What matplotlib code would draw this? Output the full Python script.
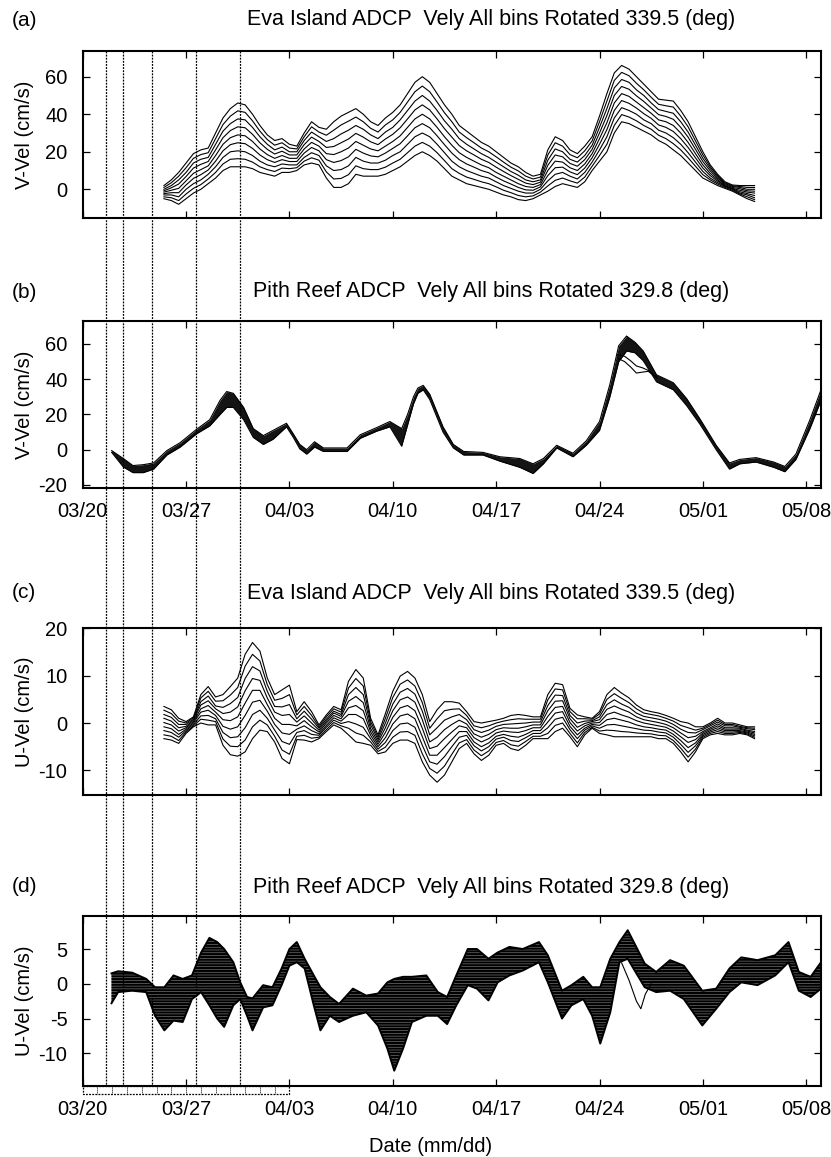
import numpy as np
import matplotlib
matplotlib.use("Agg")
import matplotlib.pyplot as plt
from matplotlib.lines import Line2D
from matplotlib.transforms import blended_transform_factory

plt.rcParams['font.family'] = ['Liberation Sans', 'DejaVu Sans']
plt.rcParams['axes.unicode_minus'] = False
plt.rcParams['hatch.linewidth'] = 1.6

# time axis: days since 03/20 00:00
tick_days = [0, 7, 14, 21, 28, 35, 42, 49]
tick_labels = ['03/20', '03/27', '04/03', '04/10', '04/17', '04/24', '05/01', '05/08']
event_days = [1.6, 2.73, 4.69, 7.66, 10.62]

# ---- Eva Island, V (panel a) and U (panel c): half-day samples, bins top -> bottom
days_eva = np.arange(5.5, 46.0, 0.5)

a_bins = [
    [2, 5, 9, 14, 19, 21, 22, 30, 38, 43,
     46, 45, 40, 34, 29, 26, 27, 24, 23, 30,
     36, 33, 32, 36, 39, 41, 43, 40, 36, 34,
     38, 41, 45, 51, 57, 60, 57, 51, 45, 40,
     34, 31, 28, 25, 23, 20, 17, 14, 12, 9,
     7, 8, 21, 28, 26, 21, 19, 23, 28, 39,
     51, 62, 66, 64, 60, 56, 52, 48, 47.5, 47,
     42, 36, 28, 20, 13, 8, 4, 2.3, 2, 2,
     2],
    [1, 3.5, 7, 11.5, 16.5, 18.5, 19.5, 27, 34.5, 39,
     41.8, 41, 36.5, 31, 26.5, 23.5, 24.8, 22, 21.5, 28,
     33.3, 30.5, 28.8, 31.5, 34.3, 36.3, 38.5, 36, 32.5, 30.5,
     34.3, 37, 41, 46.5, 52, 55, 52, 46.5, 40.8, 36,
     30.5, 27.5, 24.8, 22, 20, 17.3, 14.5, 11.8, 9.8, 7,
     5.5, 6.5, 18.3, 24.8, 23, 18.5, 16.8, 20.5, 25.8, 36,
     47, 58, 62.3, 60.5, 56.5, 53, 49, 45.3, 44.5, 43.8,
     39, 33.3, 25.8, 18.3, 12, 7.3, 3.5, 1.9, 1.5, 1,
     1],
    [0, 2, 5, 9, 14, 16, 17, 24, 31, 35,
     37.5, 37, 33, 28, 24, 21, 22.5, 20, 20, 26,
     30.5, 28, 25.5, 27, 29.5, 31.5, 34, 32, 29, 27,
     30.5, 33, 37, 42, 47, 50, 47, 42, 36.5, 32,
     27, 24, 21.5, 19, 17, 14.5, 12, 9.5, 7.5, 5,
     4, 5, 15.5, 21.5, 20, 16, 14.5, 18, 23.5, 33,
     43, 54, 58.5, 57, 53, 50, 46, 42.5, 41.5, 40.5,
     36, 30.5, 23.5, 16.5, 11, 6.5, 3, 1.5, 1, 0,
     0],
    [-0.8, 0.8, 2.8, 6.8, 11.3, 13.3, 14.8, 21, 27.5, 31.3,
     33.3, 32.8, 29.3, 24.8, 21.3, 18.8, 20.3, 18.3, 18.3, 23.8,
     27.8, 25.5, 22.3, 22.8, 24.8, 26.8, 29.8, 27.8, 25.3, 23.8,
     26.8, 29.3, 32.8, 37.5, 42.3, 45, 42.3, 37.5, 32.3, 27.8,
     23.3, 20.5, 18.3, 16, 14.3, 11.8, 9.5, 7.3, 5.3, 3.3,
     2.5, 3.8, 12.8, 18.3, 17.3, 13.8, 12.3, 15.8, 21.3, 30,
     39.3, 50, 54.8, 53.3, 49.8, 46.8, 43.3, 39.8, 38.8, 37.3,
     33, 27.8, 21.3, 14.8, 9.8, 5.8, 2.5, 1, 0.3, -0.8,
     -1],
    [-1.5, -0.5, 0.5, 4.5, 8.5, 10.5, 12.5, 18, 24, 27.5,
     29, 28.5, 25.5, 21.5, 18.5, 16.5, 18, 16.5, 16.5, 21.5,
     25, 23, 19, 18.5, 20, 22, 25.5, 23.5, 21.5, 20.5,
     23, 25.5, 28.5, 33, 37.5, 40, 37.5, 33, 28, 23.5,
     19.5, 17, 15, 13, 11.5, 9, 7, 5, 3, 1.5,
     1, 2.5, 10, 15, 14.5, 11.5, 10, 13.5, 19, 27,
     35.5, 46, 51, 49.5, 46.5, 43.5, 40.5, 37, 36, 34,
     30, 25, 19, 13, 8.5, 5, 2, 0.5, -0.5, -1.5,
     -2],
    [-2.3, -1.8, -1.8, 2.3, 5.8, 7.8, 10.3, 15, 20.5, 23.8,
     24.8, 24.3, 21.8, 18.3, 15.8, 14.3, 15.8, 14.8, 14.8, 19.3,
     22.3, 20.5, 15.8, 14.3, 15.3, 17.3, 21.3, 19.3, 17.8, 17.3,
     19.3, 21.8, 24.3, 28.5, 32.8, 35, 32.8, 28.5, 23.8, 19.3,
     15.8, 13.5, 11.8, 10, 8.8, 6.5, 4.5, 2.8, 1, -0.3,
     -0.5, 1.3, 7.3, 11.5, 11.8, 9.3, 7.8, 11.3, 16.8, 24,
     31.8, 42, 47.3, 45.8, 43.3, 40.3, 37.8, 34.3, 33, 30.8,
     27, 22.3, 16.8, 11.3, 7.3, 4.3, 1.8, 0.3, -1.3, -2.3,
     -3.3],
    [-3, -3, -4, 0, 3, 5, 8, 12, 17, 20,
     20.5, 20, 18, 15, 13, 12, 13.5, 13, 13, 17,
     19.5, 18, 12.5, 10, 10.5, 12.5, 17, 15, 14, 14,
     15.5, 18, 20, 24, 28, 30, 28, 24, 19.5, 15,
     12, 10, 8.5, 7, 6, 4, 2, 0.5, -1, -2,
     -2, 0, 4.5, 8, 9, 7, 5.5, 9, 14.5, 21,
     28, 38, 43.5, 42, 40, 37, 35, 31.5, 30, 27.5,
     24, 19.5, 14.5, 9.5, 6, 3.5, 1.5, 0, -2, -3,
     -4.5],
    [-4, -4.5, -6, -2.5, 0.5, 2.5, 5.5, 9, 13.5, 16,
     16.3, 16, 14.5, 12, 10.5, 9.5, 11.3, 11, 11.5, 15,
     16.8, 15.5, 9.3, 5.5, 5.8, 7.8, 12.5, 11, 10.5, 10.5,
     11.8, 14, 16, 19.5, 23, 25, 23, 19.5, 15.3, 11,
     8.5, 6.5, 5.3, 4, 3, 1.3, -0.5, -1.8, -3.3, -4,
     -3.5, -1.5, 1.8, 4.8, 6, 4.5, 3.3, 6.5, 12.3, 18,
     24, 34, 39.8, 38.5, 36.5, 34, 32, 28.8, 27, 24.3,
     21, 16.8, 12.3, 7.8, 5, 2.8, 1, -0.5, -2.5, -4,
     -5.5],
    [-5, -6, -8, -5, -2, 0, 3, 6, 10, 12,
     12, 12, 11, 9, 8, 7, 9, 9, 10, 13,
     14, 13, 6, 1, 1, 3, 8, 7, 7, 7,
     8, 10, 12, 15, 18, 20, 18, 15, 11, 7,
     5, 3, 2, 1, 0, -1.5, -3, -4, -5.5, -6,
     -5, -3, -1, 1.5, 3, 2, 1, 4, 10, 15,
     20, 30, 36, 35, 33, 31, 29, 26, 24, 21,
     18, 14, 10, 6, 4, 2, 0.5, -1, -3, -5,
     -6.5],
]

c_bins = [
    [3.5, 2.8, 1, 0.3, 1.3, 6, 7.7, 5.5, 6, 7.7,
     9.5, 14.5, 17, 15.2, 9.5, 6, 7, 8, 2.4, 4.5,
     2.4, -0.4, 1.7, 3.5, 2.8, 8.8, 11.3, 9.5, 1, -2.5,
     2, 6.7, 9.9, 10.9, 9.5, 6, 0.3, 2.8, 4.5, 4.5,
     4.2, 2.4, 0.3, 0, 0.3, 0.6, 1, 1.6, 1.8, 1.6,
     1.3, 1.3, 6, 8.4, 8.1, 3.1, 1.7, 1.3, 1, 2.4,
     6, 7.5, 6.3, 5.3, 3.8, 2.8, 2.4, 2.1, 1.6, 1,
     0.3, 0, -0.8, -0.8, 0, 1, 0, 0, -0.4, -0.8,
     -0.8],
    [2.7, 2, 0.4, 0, 1.1, 5.3, 6.7, 4.6, 4.7, 5.9,
     7.5, 12, 14.5, 13.1, 8.1, 4.8, 5.2, 6, 1.7, 3.5,
     1.6, -0.8, 1.3, 3, 2.3, 7.4, 9.4, 7.8, 0.3, -3,
     1, 5.4, 8.2, 9.1, 7.8, 4.3, -1.1, 0.9, 2.6, 2.9,
     3, 1.6, -0.6, -1, -0.6, 0, 0.4, 0.7, 0.9, 0.8,
     0.8, 0.8, 4.9, 7.2, 7, 2.4, 0.9, 0.9, 0.8, 1.9,
     5, 6.2, 5.2, 4.3, 3, 2.1, 1.8, 1.5, 1, 0.4,
     -0.5, -1, -1.5, -1.1, -0.3, 0.6, -0.3, -0.3, -0.7, -1,
     -1.1],
    [1.8, 1.2, -0.3, -0.3, 0.8, 4.5, 5.7, 3.6, 3.3, 4.1,
     5.4, 9.4, 11.9, 11, 6.7, 3.5, 3.4, 3.9, 0.9, 2.5,
     0.8, -1.1, 0.8, 2.5, 1.8, 6, 7.5, 6, -0.4, -3.5,
     0, 4, 6.5, 7.3, 6.1, 2.5, -2.5, -1, 0.6, 1.3,
     1.8, 0.7, -1.4, -2, -1.5, -0.7, -0.3, -0.2, -0.1, 0,
     0.2, 0.2, 3.7, 5.9, 5.8, 1.6, 0, 0.4, 0.5, 1.3,
     3.9, 4.9, 4, 3.3, 2.1, 1.4, 1.1, 0.8, 0.4, -0.3,
     -1.3, -2, -2.1, -1.4, -0.6, 0.2, -0.6, -0.6, -0.9, -1.2,
     -1.4],
    [1, 0.4, -1, -0.7, 0.6, 3.8, 4.7, 3, 2, 2.3,
     3.4, 6.8, 9.4, 9, 5.3, 2.3, 1.6, 1.8, 0.2, 1.5,
     0, -1.5, 0.4, 2.1, 1.4, 4.6, 5.6, 4.3, -1.2, -4,
     -1, 2.6, 4.9, 5.5, 4.4, 0.7, -4, -3, -1.4, -0.3,
     0.6, -0.2, -2.3, -3, -2.4, -1.4, -1, -1.1, -1.1, -0.8,
     -0.4, -0.4, 2.6, 4.6, 4.7, 0.9, -0.9, -0.1, 0.3, 0.7,
     2.9, 3.6, 2.9, 2.3, 1.3, 0.7, 0.4, 0.1, -0.3, -1,
     -2.1, -3.1, -2.8, -1.8, -1, -0.2, -1, -1, -1.1, -1.5,
     -1.8],
    [0.1, -0.4, -1.7, -1, 0.3, 3, 3.7, 2.3, 0.7, 0.5,
     1.3, 4.2, 6.9, 6.9, 3.9, 1, -0.3, -0.3, -0.6, 0.5,
     -0.8, -1.9, 0, 1.6, 0.9, 3.2, 3.7, 2.6, -1.9, -4.5,
     -2, 1.2, 3.2, 3.7, 2.6, -1.1, -5.4, -4.9, -3.3, -1.9,
     -0.6, -1, -3.1, -4, -3.3, -2.1, -1.7, -1.9, -2, -1.6,
     -1, -1, 1.4, 3.3, 3.5, 0.1, -1.7, -0.6, 0, 0.1,
     1.8, 2.3, 1.7, 1.2, 0.5, 0, -0.3, -0.6, -0.9, -1.7,
     -2.9, -4.1, -3.5, -2.1, -1.3, -0.6, -1.3, -1.3, -1.3, -1.7,
     -2.1],
    [-0.8, -1.2, -2.4, -1.3, 0, 2.3, 2.7, 1.6, -0.7, -1.3,
     -0.8, 1.6, 4.4, 4.8, 2.5, -0.3, -2.1, -2.4, -1.3, -0.6,
     -1.6, -2.3, -0.5, 1.1, 0.4, 1.8, 1.8, 0.9, -2.6, -5,
     -3.1, -0.2, 1.5, 1.9, 0.9, -2.9, -6.8, -6.8, -5.2, -3.5,
     -1.8, -1.8, -4, -5, -4.2, -2.8, -2.4, -2.8, -3, -2.4,
     -1.6, -1.6, 0.2, 2.1, 2.4, -0.7, -2.5, -1.1, -0.3, -0.5,
     0.7, 1, 0.6, 0.2, -0.4, -0.8, -1, -1.3, -1.5, -2.4,
     -3.7, -5.2, -4.2, -2.4, -1.6, -1, -1.6, -1.6, -1.6, -1.9,
     -2.4],
    [-1.6, -2, -3, -1.6, -0.3, 1.5, 1.6, 0.9, -2, -3.1,
     -2.9, -1, 1.8, 2.7, 1, -1.5, -3.9, -4.5, -2, -1.6,
     -2.4, -2.6, -0.9, 0.6, -0.1, 0.3, -0.2, -0.9, -3.3, -5.5,
     -4.1, -1.6, -0.2, 0, -0.9, -4.7, -8.2, -8.7, -7.1, -5,
     -3, -2.6, -4.8, -5.9, -5, -3.4, -3, -3.7, -3.9, -3.1,
     -2.2, -2.2, -1, 0.8, 1.2, -1.4, -3.3, -1.5, -0.6, -1.1,
     -0.4, -0.3, -0.6, -0.9, -1.2, -1.5, -1.6, -1.9, -2.1, -3,
     -4.5, -6.2, -4.8, -2.7, -1.9, -1.4, -1.9, -1.9, -1.8, -2.1,
     -2.7],
    [-2.5, -2.8, -3.7, -1.9, -0.6, 0.8, 0.6, 0.3, -3.4, -4.9,
     -5, -3.6, -0.8, 0.6, -0.4, -2.8, -5.7, -6.6, -2.8, -2.6,
     -3.2, -3, -1.4, 0.1, -0.6, -1.1, -2.1, -2.6, -4, -6,
     -5.1, -3, -1.9, -1.8, -2.6, -6.5, -9.6, -10.6, -9.1, -6.6,
     -4.2, -3.5, -5.7, -6.9, -5.9, -4.1, -3.7, -4.6, -4.9, -3.9,
     -2.8, -2.8, -2.2, -0.5, 0, -2.2, -4.2, -2, -0.9, -1.7,
     -1.5, -1.6, -1.8, -1.9, -2.1, -2.2, -2.3, -2.6, -2.7, -3.7,
     -5.3, -7.2, -5.5, -3, -2.2, -1.8, -2.2, -2.2, -2, -2.3,
     -3],
    [-3.3, -3.6, -4.3, -2.2, -0.8, 0, -0.4, -0.4, -4.7, -6.7,
     -7, -6.1, -3.3, -1.5, -1.8, -4, -7.5, -8.6, -3.5, -3.6,
     -4, -3.3, -1.8, -0.4, -1.1, -2.5, -4, -4.3, -4.7, -6.5,
     -6.1, -4.3, -3.6, -3.6, -4.3, -8.2, -11, -12.5, -11, -8.2,
     -5.4, -4.3, -6.5, -7.9, -6.8, -4.7, -4.3, -5.4, -5.8, -4.7,
     -3.3, -3.3, -3.3, -1.8, -1.1, -2.9, -5, -2.5, -1.1, -2.2,
     -2.5, -2.9, -2.9, -2.9, -2.9, -2.9, -2.9, -3.3, -3.3, -4.3,
     -6.1, -8.2, -6.1, -3.3, -2.5, -2.2, -2.5, -2.5, -2.2, -2.5,
     -3.3],
]

# ---- Pith Reef, V (panel b): band spanned by all bins
b_days = [1.96, 2.75, 3.4, 4.1, 4.8, 5.7, 6.6, 7.7, 8.6, 9.3,
          9.75, 10.2, 10.9, 11.55, 12.23, 12.9, 13.8, 14.26, 14.7, 15.17,
          15.7, 16.3, 17.9, 18.8, 19.9, 20.8, 21.6, 22.0, 22.4, 22.7,
          23.06, 23.5, 24.4, 25.1, 25.8, 27.1, 28.25, 29.6, 30.5, 31.2,
          32.1, 33.2, 34.1, 35.0, 35.7, 36.3, 36.83, 37.4, 37.96, 38.86,
          40.0, 40.9, 41.8, 42.9, 43.8, 44.5, 45.6, 46.8, 47.55, 48.3,
          49.25, 50.0]
b_upper = [-0.5, -5, -9, -8.5, -7.5, -0.5, 4, 11.5, 17, 28,
           33, 32, 24, 12, 8, 11, 15, 9, 3, 0,
           4.5, 1, 1, 8.5, 12.5, 16, 12, 20, 30, 35,
           36.5, 31.5, 13, 3, -1, -1.5, -4, -5, -8, -5,
           2.5, -2, 5, 16, 37, 59, 64.5, 61, 56, 42.5,
           38, 29, 17.5, 2.5, -7.5, -5.5, -4.5, -7, -9.5, -2.5,
           17, 34]
b_lower = [-1.5, -9.8, -13, -13, -11, -3, 1.5, 9, 13.5, 20,
           24, 24, 17, 7, 3, 6, 13, 7, 0.5, -2.5,
           1.5, -1, -1, 6.5, 10.5, 13, 2, 14, 26, 32,
           34, 28.5, 10, 1, -3, -3, -6.5, -10, -13.5, -8,
           1, -4, 2.5, 11, 30, 50, 56, 55, 50.5, 38.5,
           34, 25, 14.5, 0, -11, -8, -7, -10, -12.5, -5.5,
           12, 28]
b_out_days = [36.2, 36.7, 37.1, 37.5, 37.9, 38.3, 38.9]
b_out1 = [52, 50, 47, 43.5, 44, 44.5, 40.7]
b_out2 = [54, 53, 50.5, 47.5, 46.5, 45, 41]

# ---- Pith Reef, U (panel d)
d_days = [1.95, 2.4, 3.35, 4.3, 4.9, 5.53, 6.15, 6.77, 7.4, 8.02,
          8.58, 9.11, 9.58, 10.2, 10.67, 11.13, 11.5, 12.22, 12.85, 13.47,
          14.0, 14.5, 15.03, 15.65, 16.1, 16.74, 17.36, 18.3, 19.2, 20.0,
          20.63, 21.1, 21.7, 22.3, 23.27, 24.05, 24.68, 25.3, 26.08, 26.7,
          27.48, 28.1, 28.9, 29.8, 30.9, 31.5, 32.46, 33.1, 33.9, 34.5,
          35.05, 35.73, 36.35, 36.91, 37.44, 38.06, 38.84, 39.78, 40.71, 41.96,
          42.9, 43.8, 44.6, 45.7, 46.9, 47.8, 48.5, 49.3, 50.0]
d_upper = [1.5, 1.8, 1.6, 0.7, -0.5, -0.5, 1.2, 0.7, 1.2, 4.5,
           6.6, 6, 5, 3.1, 0.2, -1.9, -2.1, -0.2, -0.5, 2.2,
           5, 6, 3.6, 1.2, -0.5, -1.9, -2.9, -0.7, -1.7, -1.4,
           0.2, 0.7, 1, 1, 1.2, -1.2, -1.9, 1.2, 5, 5,
           3.6, 4.5, 5.3, 5, 6, 4.1, -1, -0.2, 1, -0.5,
           -0.5, 3.6, 6, 7.7, 5.5, 2.9, 1.7, 3.4, 2.6, -1,
           -0.7, 2.2, 3.8, 3.4, 4.1, 6, 1.7, 1, 3.1]
d_lower = [-2.8, -1.2, -1, -1.2, -4.6, -6.7, -5.3, -5.5, -2.2, -1.2,
           -3.1, -5, -6.2, -3.1, -2.2, -4.6, -6.7, -3.4, -3.1, -0.2,
           2.6, 3.1, 2.2, -3.1, -6.7, -4.6, -5.5, -4.6, -4.1, -6,
           -9.3, -12.5, -9.3, -5.5, -4.6, -4.6, -5.8, -3.1, -0.2, -0.7,
           -2.4, 0.2, 1.2, 1.9, 3.1, 0.2, -5, -3.1, -2.2, -4.6,
           -8.6, -4.1, 3.1, 3.6, 1.7, -0.5, -1.2, -1, -2.2, -6,
           -3.6, -1.2, 0.2, -0.2, 1.2, 3.1, -1, -1.9, -0.7]
d_out_days = [36.5, 37.0, 37.5, 37.8, 38.1, 38.5]
d_out = [3, 0.5, -2.5, -3.6, -1.5, 0]

W, H = 831, 1157
fig = plt.figure(figsize=(W / 100, H / 100), dpi=100)


def add_panel(top, bottom):
    ax = fig.add_axes([82.7 / W, 1 - bottom / H, (821 - 82.7) / W, (bottom - top) / H])
    for s in ax.spines.values():
        s.set_linewidth(1.5)
    ax.tick_params(direction='in', length=4.8, width=0.9, top=True, right=True,
                   labelsize=14.5, pad=10)
    ax.set_xlim(0, 50)
    ax.set_xticks(tick_days)
    ax.set_xticklabels(tick_labels)
    return ax


ax_a = add_panel(50.7, 218.3)
ax_b = add_panel(320.7, 488.3)
ax_c = add_panel(628.3, 795.0)
ax_d = add_panel(915.7, 1085.7)

lw = 0.8
for arr in a_bins:
    ax_a.plot(days_eva, arr, color='k', lw=lw)
for arr in c_bins:
    ax_c.plot(days_eva, arr, color='k', lw=lw)

ax_b.fill_between(b_days, b_lower, b_upper, color='0.08', lw=0)
ax_b.plot(b_days, b_upper, color='k', lw=lw)
ax_b.plot(b_days, b_lower, color='k', lw=lw)
ax_b.plot(b_out_days, b_out1, color='k', lw=lw)
ax_b.plot(b_out_days, b_out2, color='k', lw=lw)

ax_d.fill_between(d_days, d_lower, d_upper, facecolor='0.55', edgecolor='k',
                  hatch='------', lw=0)
ax_d.plot(d_days, d_upper, color='k', lw=1.4)
ax_d.plot(d_days, d_lower, color='k', lw=1.4)
ax_d.plot(d_out_days, d_out, color='k', lw=lw)

ax_a.set_ylim(-15.45, 73.85)
ax_a.set_yticks([0, 20, 40, 60])
ax_b.set_ylim(-21.9, 73.2)
ax_b.set_yticks([-20, 0, 20, 40, 60])
ax_c.set_ylim(-15.2, 20)
ax_c.set_yticks([-10, 0, 10, 20])
ax_d.set_ylim(-14.66, 9.79)
ax_d.set_yticks([-10, -5, 0, 5])

for ax in (ax_a, ax_b, ax_c, ax_d):
    ax.tick_params(axis='y', pad=11)
ax_a.tick_params(labelbottom=False)
ax_c.tick_params(labelbottom=False)

# panel letters, titles, y labels
eva = 'Eva Island ADCP  Vely All bins Rotated 339.5 (deg)'
pith = 'Pith Reef ADCP  Vely All bins Rotated 329.8 (deg)'
panels = [('(a)', eva, 20, 'V-Vel (cm/s)', 134.5),
          ('(b)', pith, 292, 'V-Vel (cm/s)', 404.5),
          ('(c)', eva, 593, 'U-Vel (cm/s)', 711.6),
          ('(d)', pith, 887, 'U-Vel (cm/s)', 1000.7)]
for letter, title, ty, ylab, ly in panels:
    fig.text(12 / W, 1 - ty / H, letter, ha='left', va='center', fontsize=15)
    fig.text(491 / W, 1 - ty / H, title, ha='center', va='center', fontsize=15.5)
    fig.text(25 / W, 1 - ly / H, ylab, ha='center', va='center', rotation=90, fontsize=14.5)

fig.text(431 / W, 1 - 1146.7 / H, 'Date (mm/dd)', ha='center', va='center', fontsize=14.5)

# dotted event lines running through all four panels
trans = blended_transform_factory(ax_d.transData, fig.transFigure)
for d in event_days:
    fig.add_artist(Line2D([d, d], [1 - 50.7 / H, 1 - 1085.7 / H], transform=trans,
                          color='k', lw=0.9, ls=(0, (1.5, 1.0)), zorder=5))

# dotted day-box under panel (d)
btrans = blended_transform_factory(ax_d.transData, ax_d.transAxes)
hb = -8.6 / 170.0
ax_d.plot([0, 14, 14, 0, 0], [0, 0, hb, hb, 0], transform=btrans, clip_on=False,
          color='k', lw=0.9, ls=(0, (1.5, 1.0)))
for d in range(1, 14):
    ax_d.plot([d, d], [0, hb], transform=btrans, clip_on=False,
              color='k', lw=0.7, ls=(0, (1.0, 1.0)))

fig.savefig('out.png', dpi=100)
